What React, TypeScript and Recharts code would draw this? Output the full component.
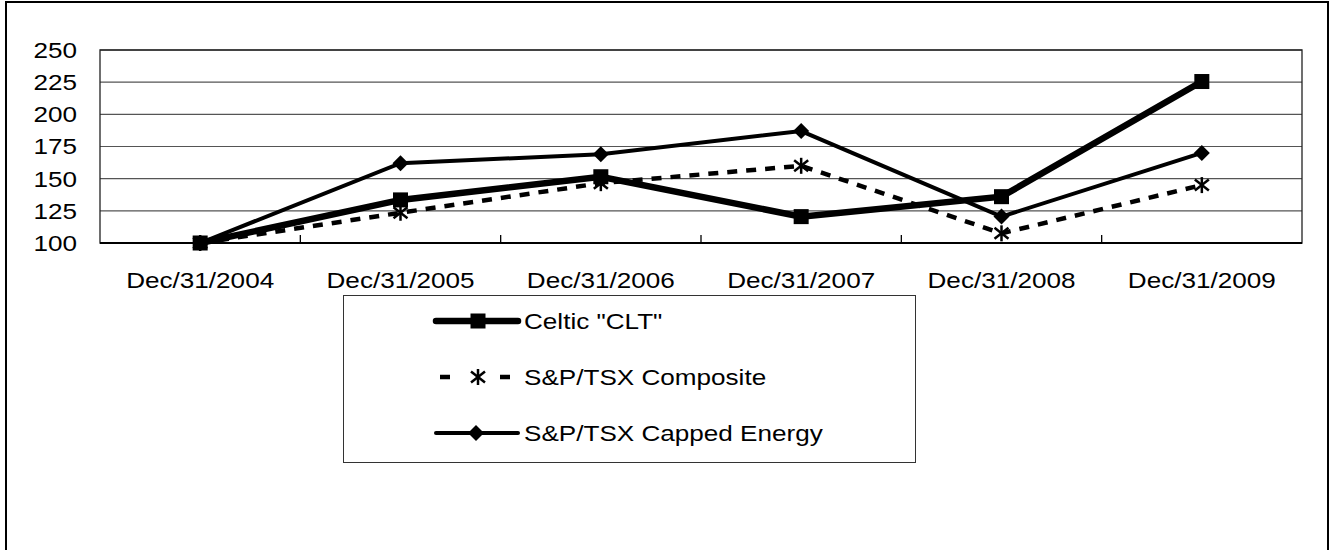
import { LineChart, Line, XAxis, YAxis, CartesianGrid, ReferenceArea, Legend } from 'recharts'

const categories = ['Dec/31/2004', 'Dec/31/2005', 'Dec/31/2006', 'Dec/31/2007', 'Dec/31/2008', 'Dec/31/2009']
const celtic = [100, 133.5, 151.5, 120.5, 136, 225.5]
const composite = [100, 123.5, 146.5, 160, 107.5, 145]
const energy = [100, 162, 169, 187, 120.5, 170]
const yTicks = [100, 125, 150, 175, 200, 225, 250]

const FONT = '"Liberation Sans", Arial, sans-serif'
const STRETCH = 1.16

const data = categories.map((name, i) => ({
  i,
  name,
  celtic: celtic[i],
  composite: composite[i],
  energy: energy[i],
}))

// label ticks at category centres, short tick marks at the boundaries
const xTicks = categories.flatMap((_, k) => (k < categories.length - 1 ? [k, k + 0.5] : [k]))

const SquareDot = ({ cx, cy }: any) => <rect x={cx - 7.5} y={cy - 7.5} width={15} height={15} fill="#000" />

const DiamondDot = ({ cx, cy }: any) => (
  <path d={`M${cx},${cy - 8} L${cx + 8},${cy} L${cx},${cy + 8} L${cx - 8},${cy} Z`} fill="#000" />
)

const StarDot = ({ cx, cy }: any) => (
  <g stroke="#000" strokeWidth={2.5}>
    <line x1={cx} y1={cy - 8} x2={cx} y2={cy + 8} />
    <line x1={cx - 7} y1={cy - 5.5} x2={cx + 7} y2={cy + 5.5} />
    <line x1={cx - 7} y1={cy + 5.5} x2={cx + 7} y2={cy - 5.5} />
  </g>
)

const XTick = ({ x, y, payload }: any) => {
  const v = payload.value
  if (!Number.isInteger(v)) {
    return <line x1={x} y1={y} x2={x} y2={y - 8} stroke="#000" strokeWidth={1.3} />
  }
  return (
    <text
      transform={`translate(${x},${y + 37}) scale(${STRETCH},1)`}
      textAnchor="middle"
      dominantBaseline="central"
      fontFamily={FONT}
      fontSize={22.5}
      fill="#000"
    >
      {categories[v]}
    </text>
  )
}

const YTick = ({ x, y, payload }: any) => (
  <text
    transform={`translate(${x},${y}) scale(${STRETCH},1)`}
    textAnchor="end"
    dominantBaseline="central"
    fontFamily={FONT}
    fontSize={22.5}
    fill="#000"
  >
    {payload.value}
  </text>
)

const legendItems = [
  { label: 'Celtic "CLT"', kind: 'celtic' },
  { label: 'S&P/TSX Composite', kind: 'composite' },
  { label: 'S&P/TSX Capped Energy', kind: 'energy' },
]
const legendRows = [26, 82, 138]

const renderLegend = () => (
  <div style={{ width: 573, height: 168, border: '1px solid #333', boxSizing: 'border-box', background: '#fff' }}>
    <svg width={571} height={166} style={{ display: 'block' }}>
      {legendItems.map((item, k) => {
        const cy = legendRows[k] - 1
        return (
          <g key={item.kind}>
            {item.kind === 'celtic' && (
              <>
                <line x1={92} y1={cy} x2={174} y2={cy} stroke="#000" strokeWidth={6.5} strokeLinecap="round" />
                <SquareDot cx={134} cy={cy} />
              </>
            )}
            {item.kind === 'composite' && (
              <>
                <line x1={96} y1={cy} x2={166} y2={cy} stroke="#000" strokeWidth={4.5} strokeDasharray="10 50" />
                <StarDot cx={134} cy={cy} />
              </>
            )}
            {item.kind === 'energy' && (
              <>
                <line x1={92} y1={cy} x2={174} y2={cy} stroke="#000" strokeWidth={4} strokeLinecap="round" />
                <DiamondDot cx={132} cy={cy} />
              </>
            )}
            <text
              transform={`translate(180,${cy}) scale(${STRETCH},1)`}
              dominantBaseline="central"
              fontFamily={FONT}
              fontSize={22.5}
              fill="#000"
            >
              {item.label}
            </text>
          </g>
        )
      })}
    </svg>
  </div>
)

export default function App() {
  return (
    <div style={{ position: 'fixed', left: 0, top: 0, width: 1333, height: 550, overflow: 'hidden', background: '#fff' }}>
      <div
        style={{
          position: 'absolute',
          left: 5,
          top: 1,
          width: 1324,
          height: 600,
          border: '2px solid #000',
          boxSizing: 'border-box',
        }}
      />
      <div style={{ position: 'absolute', left: 0, top: 0 }}>
        <LineChart width={1333} height={550} data={data} margin={{ top: 50, right: 31, left: 0, bottom: 267 }}>
          <CartesianGrid horizontal vertical={false} stroke="#555" strokeWidth={1.2} />
          <ReferenceArea x1={-0.5} x2={5.5} y1={100} y2={250} fill="none" stroke="#222" strokeWidth={1.3} strokeOpacity={1} />
          <XAxis
            dataKey="i"
            type="number"
            domain={[-0.5, 5.5]}
            ticks={xTicks}
            interval={0}
            tick={<XTick />}
            tickLine={false}
            tickSize={0}
            tickMargin={0}
            height={40}
            axisLine={{ stroke: '#000', strokeWidth: 2 }}
          />
          <YAxis
            type="number"
            domain={[100, 250]}
            ticks={yTicks}
            interval={0}
            width={100}
            tick={<YTick />}
            tickLine={false}
            tickSize={0}
            tickMargin={23}
            axisLine={false}
          />
          <Line
            dataKey="composite"
            stroke="#000"
            strokeWidth={4.5}
            strokeDasharray="10 9"
            dot={<StarDot />}
            activeDot={false}
            isAnimationActive={false}
          />
          <Line
            dataKey="energy"
            stroke="#000"
            strokeWidth={4}
            dot={<DiamondDot />}
            activeDot={false}
            isAnimationActive={false}
          />
          <Line
            dataKey="celtic"
            stroke="#000"
            strokeWidth={6.5}
            dot={<SquareDot />}
            activeDot={false}
            isAnimationActive={false}
          />
          <Legend
            layout="horizontal"
            verticalAlign="middle"
            align="center"
            content={renderLegend}
            wrapperStyle={{ left: 343, top: 295, width: 573, height: 168 }}
          />
        </LineChart>
      </div>
    </div>
  )
}
